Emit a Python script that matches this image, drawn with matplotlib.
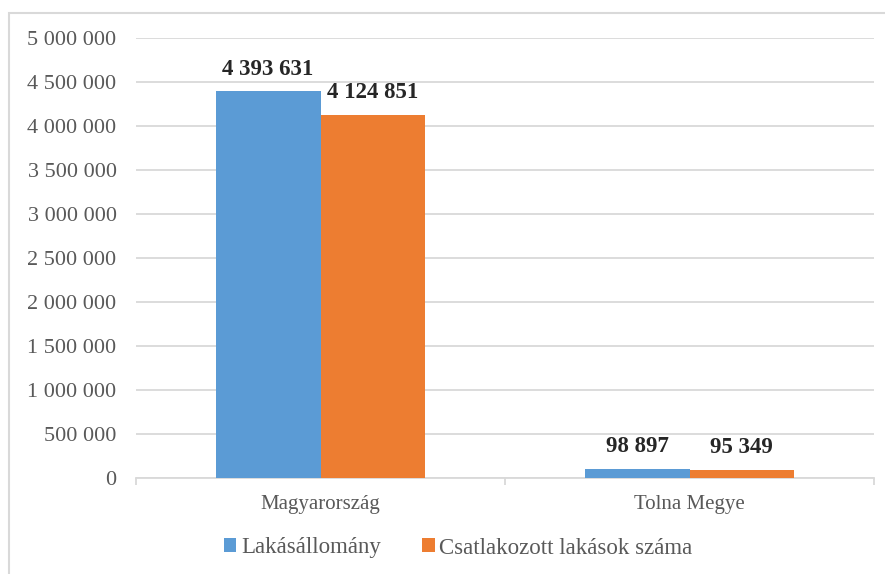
import matplotlib.pyplot as plt
import matplotlib.patches as mpatches
import numpy as np

# adatok
kategoriak = ["Magyarország", "Tolna Megye"]
lakasallomany = [4393631, 98897]
csatlakozott = [4124851, 95349]
sorozatok = ["Lakásállomány", "Csatlakozott lakások száma"]
y_ticks = list(range(0, 5000001, 500000))

kek = "#5B9BD5"
narancs = "#ED7D31"
racs = "#D9D9D9"
szurke = "#595959"

plt.rcParams['font.family'] = ['Liberation Serif', 'DejaVu Serif']

fig = plt.figure(figsize=(8.85, 5.74), dpi=100)
ax = fig.add_axes([136 / 885, 1 - 478 / 574, (874 - 136) / 885, (478 - 38) / 574])

x = np.arange(len(kategoriak))
w = 0.284
b1 = ax.bar(x - w / 2, lakasallomany, w, color=kek, label=sorozatok[0], zorder=3)
b2 = ax.bar(x + w / 2, csatlakozott, w, color=narancs, label=sorozatok[1], zorder=3)

# adatcimkek
for bars in (b1, b2):
    for rect in bars:
        v = rect.get_height()
        ax.annotate(f"{v:,}".replace(",", " "),
                    (rect.get_x() + rect.get_width() / 2, v),
                    xytext=(0, 8.5), textcoords="offset points",
                    ha="center", va="bottom", fontsize=16.5, fontweight="bold",
                    color="#262626")

ax.set_xlim(-0.5, 1.5)
ax.set_ylim(0, 5000000)
ax.set_yticks(y_ticks)
ax.set_yticklabels([f"{v:,}".replace(",", " ") for v in y_ticks])
ax.yaxis.grid(True, color=racs, linewidth=1.3, zorder=0)

ax.set_xticks(x)
ax.set_xticklabels(kategoriak)
ax.set_xticks([-0.5, 0.5, 1.5], minor=True)

ax.tick_params(axis="y", length=0, pad=14, labelsize=16, labelcolor=szurke)
ax.tick_params(axis="x", which="major", length=0, pad=12, labelsize=15, labelcolor=szurke)
ax.tick_params(axis="x", which="minor", length=5, color=racs, width=1.3)

for s in ["top", "right", "left"]:
    ax.spines[s].set_visible(False)
ax.spines["bottom"].set_color(racs)
ax.spines["bottom"].set_linewidth(1.3)

# kulso keret
keret = mpatches.Rectangle((9 / 885, -0.05), 1.0, 1 - 13 / 574 + 0.05,
                           transform=fig.transFigure, fill=False,
                           edgecolor=racs, linewidth=1.5)
fig.patches.append(keret)

fig.legend(loc="center", bbox_to_anchor=(458 / 885, 1 - 548 / 574), ncol=2,
           frameon=False, fontsize=16.5, labelcolor=szurke,
           handlelength=0.55, handleheight=0.55, handletextpad=0.2,
           columnspacing=1.8)

fig.savefig("out.png", dpi=100)
